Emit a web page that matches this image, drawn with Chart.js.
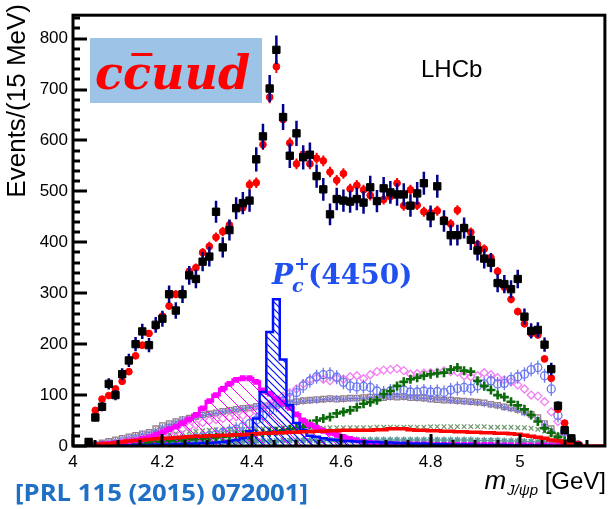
<!DOCTYPE html>
<html>
<head>
<meta charset="utf-8">
<script src="https://cdn.jsdelivr.net/npm/chart.js@4.4.1/dist/chart.umd.min.js"></script>
<style>
  html, body { margin: 0; padding: 0; background: #fff; }
  canvas { display: block; }
</style>
</head>
<body>
<canvas id="chart" width="612" height="509"></canvas>
<script>
// 15 MeV bins, first bin centre at threshold
const binStart = 4.035;
const binWidth = 0.015;

const xTicks = [4, 4.2, 4.4, 4.6, 4.8, 5];
const yTicks = [0, 100, 200, 300, 400, 500, 600, 700, 800];

// data (black squares)
const dataCounts = [8,56,77,122,100,141,168,200,225,198,
  238,250,298,266,298,335,328,362,372,460,
  390,424,467,477,482,563,608,702,778,646,
  570,614,567,572,530,504,455,485,482,480,
  485,478,508,481,506,498,494,494,472,496,
  516,451,510,442,414,414,428,405,384,368,
  360,320,318,308,328,254,226,228,199,151,
  79,31,15,0];

// total fit (red circles)
const fitCounts = [8,70,92,99,112,127,146,177,198,221,
  235,255,275,298,300,343,350,380,392,410,
  421,434,469,468,513,517,592,685,745,641,
  595,554,573,554,565,560,538,522,535,505,
  512,503,492,480,484,490,516,472,503,473,
  460,458,462,445,436,463,430,420,396,387,
  370,343,312,288,264,240,221,218,171,133,
  72,45,15,3];

// Pc(4450) (blue hatched)
const pc4450 = [0,0,0,1,1,1,1,2,2,2,
  3,3,3,4,4,5,5,6,6,7,
  8,10,12,15,29,54,106,224,288,170,
  80,45,32,20,18,15,13,12,10,10,
  9,9,8,8,7,7,6,6,5,5,
  5,4,4,4,3,3,3,3,2,2,
  2,2,2,1,1,1,1,1,1,0,
  0,0,0,0];

// Pc(4380) (magenta hatched)
const pc4380 = [1,2,3,4,5,7,9,11,14,17,
  22,27,33,38,45,52,61,74,88,100,
  112,122,130,133,133,126,109,103,93,85,
  75,62,50,42,36,30,26,22,18,14,
  11,8,6,5,4,4,3,3,3,3,
  3,3,2,2,2,2,2,2,2,2,
  2,2,1,1,1,1,1,1,1,1,
  1,0,0,0];

// Lambda* components
const lamCircles = [0,0,0,1,1,2,2,3,4,5,
  6,7,8,10,12,14,16,18,20,23,
  26,29,33,38,44,51,60,70,80,88,
  95,105,118,128,136,140,141,135,125,118,
  116,117,115,108,104,108,110,110,106,106,
  108,106,107,105,110,113,115,113,118,122,
  128,122,123,131,136,141,150,154,138,112,
  60,29,12,2];

const lamDiamonds = [0,1,2,3,4,6,8,10,12,15,
  18,21,25,29,33,38,42,46,50,52,
  54,56,58,60,64,68,74,82,90,98,
  104,112,122,130,134,131,128,133,131,136,
  138,132,140,146,149,150,152,148,141,142,
  143,144,145,148,146,145,138,136,138,144,
  140,134,130,126,120,112,100,98,87,67,
  48,25,8,0];

const lamCrosses = [0,0,1,1,2,3,4,5,6,7,
  8,9,10,11,12,13,14,15,16,17,
  18,19,20,21,22,23,25,27,29,31,
  33,35,38,43,50,54,57,64,67,70,
  76,83,86,90,102,108,118,126,131,134,
  138,141,143,144,150,154,148,146,128,118,
  110,100,96,87,80,72,61,48,35,26,
  18,10,3,0];

const lamSquares = [1,3,6,9,12,15,18,21,24,27,
  34,40,44,48,52,55,58,61,63,65,
  68,70,72,74,75,78,79,80,82,83,
  85,87,89,90,91,92,93,92,93,94,
  94,95,96,96,95,97,96,97,95,95,
  94,92,91,90,90,89,88,87,86,85,
  82,80,77,75,72,67,62,56,44,34,
  18,7,2,0];

const lamStars = [1,2,5,8,11,14,17,20,23,26,
  31,37,42,47,51,54,57,60,62,64,
  67,69,71,73,75,77,78,80,81,83,
  84,86,88,89,90,91,92,93,92,93,
  93,94,95,95,96,96,97,96,96,94,
  93,93,92,91,89,88,87,86,85,83,
  81,79,76,73,70,65,60,53,42,31,
  16,6,2,0];

const lamXs = [0,1,2,4,6,8,10,12,14,16,
  18,20,22,24,26,28,29,30,31,32,
  32,33,33,33,34,34,34,34,34,35,
  35,35,35,35,35,35,36,36,36,36,
  36,36,36,37,37,37,37,37,37,37,
  37,38,38,38,38,38,38,38,38,38,
  37,37,37,37,36,36,35,33,29,24,
  16,8,3,0];

const lamLow = [0,0,1,1,2,2,3,3,4,4,
  5,5,6,6,7,7,8,8,8,9,
  9,9,9,10,10,10,10,10,10,11,
  11,11,11,11,11,11,12,12,12,12,
  12,12,12,12,12,12,12,12,12,12,
  12,12,12,12,12,12,12,12,11,11,
  11,11,10,10,10,9,9,8,7,6,
  4,2,1,0];

const redLine = [1,3,4,5,6,8,10,11,12,13,
  14,15,15,16,17,18,19,19,20,20,
  21,21,22,22,23,24,25,25,26,26,
  27,27,28,28,29,29,30,30,31,31,
  31,31,31,32,32,34,34,34,32,31,
  31,30,30,29,29,28,28,27,27,26,
  26,25,25,24,23,21,19,17,15,12,
  10,7,4,2,0,0,0,0,0,0,0,0,0,0];

const toPoints = arr => arr.map((v, i) => ({ x: binStart + i * binWidth, y: v }));

const canvas = document.getElementById('chart');
const ctx0 = canvas.getContext('2d');

function hatch(color, size, width) {
  const c = document.createElement('canvas');
  c.width = size; c.height = size;
  const g = c.getContext('2d');
  g.strokeStyle = color;
  g.lineWidth = width;
  g.beginPath();
  g.moveTo(0, 0); g.lineTo(size, size);
  g.moveTo(-2, size - 2); g.lineTo(2, size + 2);
  g.moveTo(size - 2, -2); g.lineTo(size + 2, 2);
  g.stroke();
  return ctx0.createPattern(c, 'repeat');
}

const markers = (label, arr, style, color, radius, width) => ({
  label, data: toPoints(arr), showLine: false,
  pointStyle: style, pointRadius: radius, borderColor: color,
  pointBorderColor: color, pointBackgroundColor: 'rgba(0,0,0,0)',
  pointBorderWidth: width
});

const histo = (label, arr, color, width, fill) => ({
  label, data: toPoints(arr), stepped: 'middle',
  borderColor: color, borderWidth: width, pointRadius: 0,
  fill: fill ? 'origin' : false, backgroundColor: fill || 'rgba(0,0,0,0)'
});

const datasets = [
  Object.assign(markers('data', dataCounts, 'rect', '#000', 5.2, 1),
    { pointBackgroundColor: '#000', errScale: 1, errColor: '#000088', errWidth: 2.5 }),
  Object.assign(markers('fit', fitCounts, 'circle', '#ff0000', 3.4, 1),
    { pointBackgroundColor: '#ff0000', errScale: 0.45, errColor: '#ff0000', errWidth: 2 }),
  histo('bkg', redLine, '#ff0000', 3.5, null),
  histo('Pc(4450)', pc4450, '#0010ff', 2.5, hatch('#0010ff', 7, 1.2)),
  Object.assign(histo('Pc(4380)', pc4380, '#ff00ff', 3, hatch('#ff00ff', 12, 1)),
    { pointRadius: 2, pointStyle: 'rect', pointBackgroundColor: '#ff00ff', pointBorderColor: '#ff00ff' }),
  markers('L3', lamCrosses, 'cross', '#0b6b0b', 4.5, 2.6),
  Object.assign(markers('L1', lamCircles, 'circle', '#6a78f0', 4, 1.3),
    { errFixed: 7, errColor: '#6a78f0', errWidth: 1.3 }),
  markers('L2', lamDiamonds, 'rectRot', '#f27ff2', 4, 1.3),
  markers('L5', lamStars, 'star', '#6f6fd8', 3.5, 1),
  markers('L4', lamSquares, 'rect', '#9a8484', 3.8, 1.3),
  markers('L6', lamXs, 'crossRot', '#6f9a6f', 3.2, 1.3),
  markers('L7', lamLow, 'star', '#5a9a9a', 3.5, 1.5)
];

const errorBars = {
  id: 'errorBars',
  beforeDatasetDraw(chart, args) {
    const ds = chart.data.datasets[args.index];
    if (!ds.errScale && !ds.errFixed) return;
    const ys = chart.scales.y, a = chart.chartArea, ctx = chart.ctx;
    ctx.save();
    ctx.beginPath(); ctx.rect(a.left, a.top, a.right - a.left, a.bottom - a.top); ctx.clip();
    ctx.strokeStyle = ds.errColor; ctx.lineWidth = ds.errWidth;
    args.meta.data.forEach((pt, i) => {
      const v = ds.data[i].y;
      if (ds.errFixed) {
        if (v < 20) return;
        ctx.beginPath(); ctx.moveTo(pt.x, pt.y - ds.errFixed); ctx.lineTo(pt.x, pt.y + ds.errFixed); ctx.stroke();
        return;
      }
      const e = Math.sqrt(v) * ds.errScale;
      if (e <= 0) return;
      ctx.beginPath();
      ctx.moveTo(pt.x, ys.getPixelForValue(v - e));
      ctx.lineTo(pt.x, ys.getPixelForValue(v + e));
      ctx.stroke();
    });
    ctx.restore();
  }
};

const frame = {
  id: 'frame',
  afterDatasetsDraw(chart) {
    const { ctx, chartArea: a, scales: { x, y } } = chart;
    ctx.save();
    ctx.strokeStyle = '#000';
    ctx.lineWidth = 3;
    ctx.lineCap = 'butt';
    for (let v = 0; v <= 846; v += 20) {
      const py = Math.round(y.getPixelForValue(v));
      const len = v % 100 === 0 ? 14 : 7;
      ctx.beginPath(); ctx.moveTo(a.left, py); ctx.lineTo(a.left + len, py); ctx.stroke();
    }
    for (let k = 0; k * 0.05 <= 1.19; k++) {
      const px = Math.round(x.getPixelForValue(4 + k * 0.05));
      const len = k % 4 === 0 ? 12 : 6;
      ctx.beginPath(); ctx.moveTo(px, a.bottom); ctx.lineTo(px, a.bottom - len); ctx.stroke();
    }
    ctx.strokeRect(a.left, a.top, a.right - a.left, a.bottom - a.top);
    ctx.restore();
  }
};

const labels = {
  id: 'labels',
  afterDraw(chart) {
    const ctx = chart.ctx;
    ctx.save();
    // y title
    ctx.save();
    ctx.translate(18, 4);
    ctx.rotate(-Math.PI / 2);
    ctx.font = '26px "Liberation Sans"';
    ctx.fillStyle = '#000';
    ctx.textAlign = 'right';
    ctx.textBaseline = 'middle';
    ctx.fillText('Events/(15 MeV)', 0, 0);
    ctx.restore();

    // x title
    ctx.fillStyle = '#000';
    ctx.textBaseline = 'alphabetic';
    ctx.textAlign = 'left';
    const mFont = 'italic 26px "Liberation Sans"';
    const sFont = 'italic 15px "Liberation Sans"';
    const gFont = '24px "Liberation Sans"';
    ctx.font = gFont; const wG = ctx.measureText(' [GeV]').width;
    ctx.font = sFont; const wS = ctx.measureText('J/\u03c8p').width;
    ctx.font = mFont; const wM = ctx.measureText('m').width;
    let xx = 606 - wG - wS - wM - 1;
    ctx.fillText('m', xx, 489); xx += wM + 1;
    ctx.font = sFont; ctx.fillText('J/\u03c8p', xx, 495); xx += wS;
    ctx.font = gFont; ctx.fillText(' [GeV]', xx, 489);

    // LHCb
    ctx.font = '24px "Liberation Sans"';
    ctx.fillText('LHCb', 421, 77);

    // quark content box
    ctx.fillStyle = '#9dc3e6';
    ctx.fillRect(90, 38, 172, 65);
    ctx.fillStyle = '#ff0000';
    ctx.font = 'bold italic 46px "DejaVu Serif"';
    ctx.fillText('ccuud', 95, 89);
    const cw = ctx.measureText('c').width;
    ctx.fillRect(95 + cw + cw * 0.3, 53, cw * 0.75, 3);

    // Pc label
    ctx.fillStyle = '#2050f0';
    ctx.font = 'bold italic 28px "DejaVu Serif"';
    ctx.fillText('P', 272, 284);
    const pw = ctx.measureText('P').width;
    ctx.font = 'bold italic 19px "DejaVu Serif"';
    ctx.fillText('c', 271 + pw, 292);
    ctx.font = 'bold 19px "DejaVu Serif"';
    ctx.fillText('+', 273 + pw, 270);
    ctx.font = 'bold 28px "DejaVu Serif"';
    ctx.fillText('(4450)', 308, 284);

    // reference
    ctx.fillStyle = '#1f6fc5';
    ctx.font = 'bold 24px "Open Sans"';
    const ref = '[PRL 115 (2015) 072001]';
    const rw = ctx.measureText(ref).width;
    ctx.translate(15, 501);
    ctx.scale(293 / rw, 1);
    ctx.fillText(ref, 0, 0);
    ctx.restore();
  }
};

new Chart(canvas, {
  type: 'line',
  data: { datasets },
  options: {
    responsive: false,
    animation: false,
    events: [],
    layout: { padding: { top: 5, right: 5.5, left: 0, bottom: 0 } },
    plugins: { legend: { display: false }, tooltip: { enabled: false } },
    scales: {
      x: {
        type: 'linear', min: 4, max: 5.19,
        grid: { display: false, drawTicks: false },
        border: { display: false },
        afterBuildTicks: s => { s.ticks = xTicks.map(v => ({ value: v })); },
        afterFit: s => { s.height = 63; },
        ticks: {
          padding: 6, color: '#000', maxRotation: 0, autoSkip: false,
          font: { family: 'Liberation Sans', size: 17 },
          callback: v => String(Math.round(v * 10) / 10)
        }
      },
      y: {
        min: 0, max: 846,
        grid: { display: false, drawTicks: false },
        border: { display: false },
        afterBuildTicks: s => { s.ticks = yTicks.map(v => ({ value: v })); },
        afterFit: s => { s.width = 73; },
        ticks: {
          padding: 5, color: '#000', autoSkip: false,
          font: { family: 'Liberation Sans', size: 17 }
        }
      }
    }
  },
  plugins: [errorBars, frame, labels]
});
</script>
</body>
</html>
